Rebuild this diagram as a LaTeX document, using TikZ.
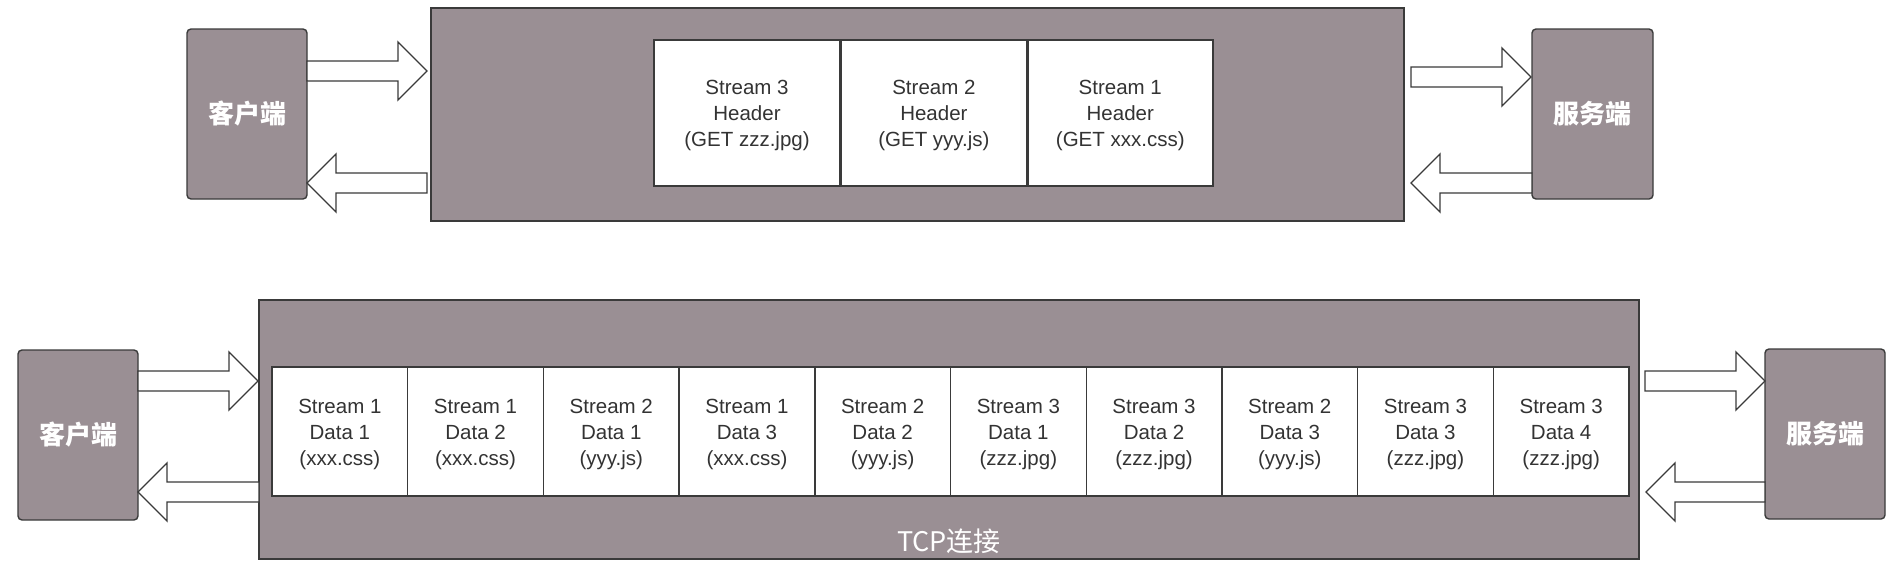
\documentclass[tikz,border=0pt]{standalone}
\usepackage{fontspec}
\setmainfont{Liberation Sans}
\newfontfamily\cjk{Noto Sans CJK SC}
\usetikzlibrary{calc}
\definecolor{boxfill}{RGB}{154,143,148}
\definecolor{edge}{RGB}{58,58,58}
\definecolor{txt}{RGB}{51,51,51}
\tikzset{
  endbox/.style={draw=edge, line width=1.4pt, fill=boxfill, rounded corners=4pt, inner sep=0pt,
    minimum width=120pt, minimum height=170pt, text=white, font=\cjk\bfseries\fontsize{26}{30}\selectfont},
  connbox/.style={draw=edge, line width=1.4pt, fill=boxfill, inner sep=0pt},
  cellbox/.style={draw=edge, line width=1.4pt, fill=white, inner sep=0pt},
  celltext/.style={text=txt, align=center, inner sep=0pt, yshift=-2.5pt,
    font=\fontsize{20.5}{26}\selectfont},
  blk/.style={draw=edge, line width=1.3pt, fill=white, line join=miter},
}
% #1 tail, #2 tip (same y)
\newcommand\blockarrow[2]{%
  \draw[blk] let \p1=(#1), \p2=(#2), \n1={ifthenelse(\x2>\x1,1,-1)} in
    (\x1,\y1+10) -- (\x2-\n1*29pt,\y1+10) -- (\x2-\n1*29pt,\y1+29) -- (\x2,\y1)
    -- (\x2-\n1*29pt,\y1-29) -- (\x2-\n1*29pt,\y1-10) -- (\x1,\y1-10) -- cycle;}
\begin{document}
\begin{tikzpicture}[x=1pt,y=-1pt]
\useasboundingbox (0,0) rectangle (1898,570);
% top row
\node[endbox] (c1) at (247,114) {客户端};
\node[connbox, minimum width=973pt, minimum height=213pt] (k1) at (917.5,114.5) {};
\node[endbox, minimum width=121pt] (s1) at (1592.5,114) {服务端};
\node[cellbox, minimum width=186pt, minimum height=146pt,
  label={[celltext]center:{Stream 3\\Header\\(GET zzz.jpg)}}] (h3) at (747,113) {};
\node[cellbox, minimum width=185pt, minimum height=146pt, anchor=west,
  label={[celltext]center:{Stream 2\\Header\\(GET yyy.js)}}] (h2) at (h3.east) {};
\node[cellbox, minimum width=185pt, minimum height=146pt, anchor=west,
  label={[celltext]center:{Stream 1\\Header\\(GET xxx.css)}}] (h1) at (h2.east) {};
\coordinate (a1t) at (307,71);  \coordinate (a1h) at (427,71);
\coordinate (a2t) at (427,183); \coordinate (a2h) at (307,183);
\coordinate (a3t) at (1411,77); \coordinate (a3h) at (1531,77);
\coordinate (a4t) at (1532,183); \coordinate (a4h) at (1411,183);
\blockarrow{a1t}{a1h}
\blockarrow{a2t}{a2h}
\blockarrow{a3t}{a3h}
\blockarrow{a4t}{a4h}
% bottom row
\node[endbox] (c2) at (78,435) {客户端};
\node[connbox, minimum width=1380pt, minimum height=259pt] (k2) at (949,429.5) {};
\node[text=white, font=\cjk\fontsize{27}{30}\selectfont, inner sep=0pt] (tcp) at (949,541) {TCP连接};
\node[endbox] (s2) at (1825,434) {服务端};
\foreach \i/\t in {1/{Stream 1\\Data 1\\(xxx.css)},2/{Stream 1\\Data 2\\(xxx.css)},3/{Stream 2\\Data 1\\(yyy.js)},
  4/{Stream 1\\Data 3\\(xxx.css)},5/{Stream 2\\Data 2\\(yyy.js)},6/{Stream 3\\Data 1\\(zzz.jpg)},
  7/{Stream 3\\Data 2\\(zzz.jpg)},8/{Stream 2\\Data 3\\(yyy.js)},9/{Stream 3\\Data 3\\(zzz.jpg)},10/{Stream 3\\Data 4\\(zzz.jpg)}}
  \node[cellbox, minimum width=135.7pt, minimum height=129pt,
    label={[celltext]center:{\t}}] (d\i) at ({272+135.7*(\i-0.5)},431.5) {};
\coordinate (b1t) at (138,381);  \coordinate (b1h) at (258,381);
\coordinate (b2t) at (259,492);  \coordinate (b2h) at (138,492);
\coordinate (b3t) at (1645,381); \coordinate (b3h) at (1765,381);
\coordinate (b4t) at (1765,492); \coordinate (b4h) at (1646,492);
\blockarrow{b1t}{b1h}
\blockarrow{b2t}{b2h}
\blockarrow{b3t}{b3h}
\blockarrow{b4t}{b4h}
\end{tikzpicture}
\end{document}
